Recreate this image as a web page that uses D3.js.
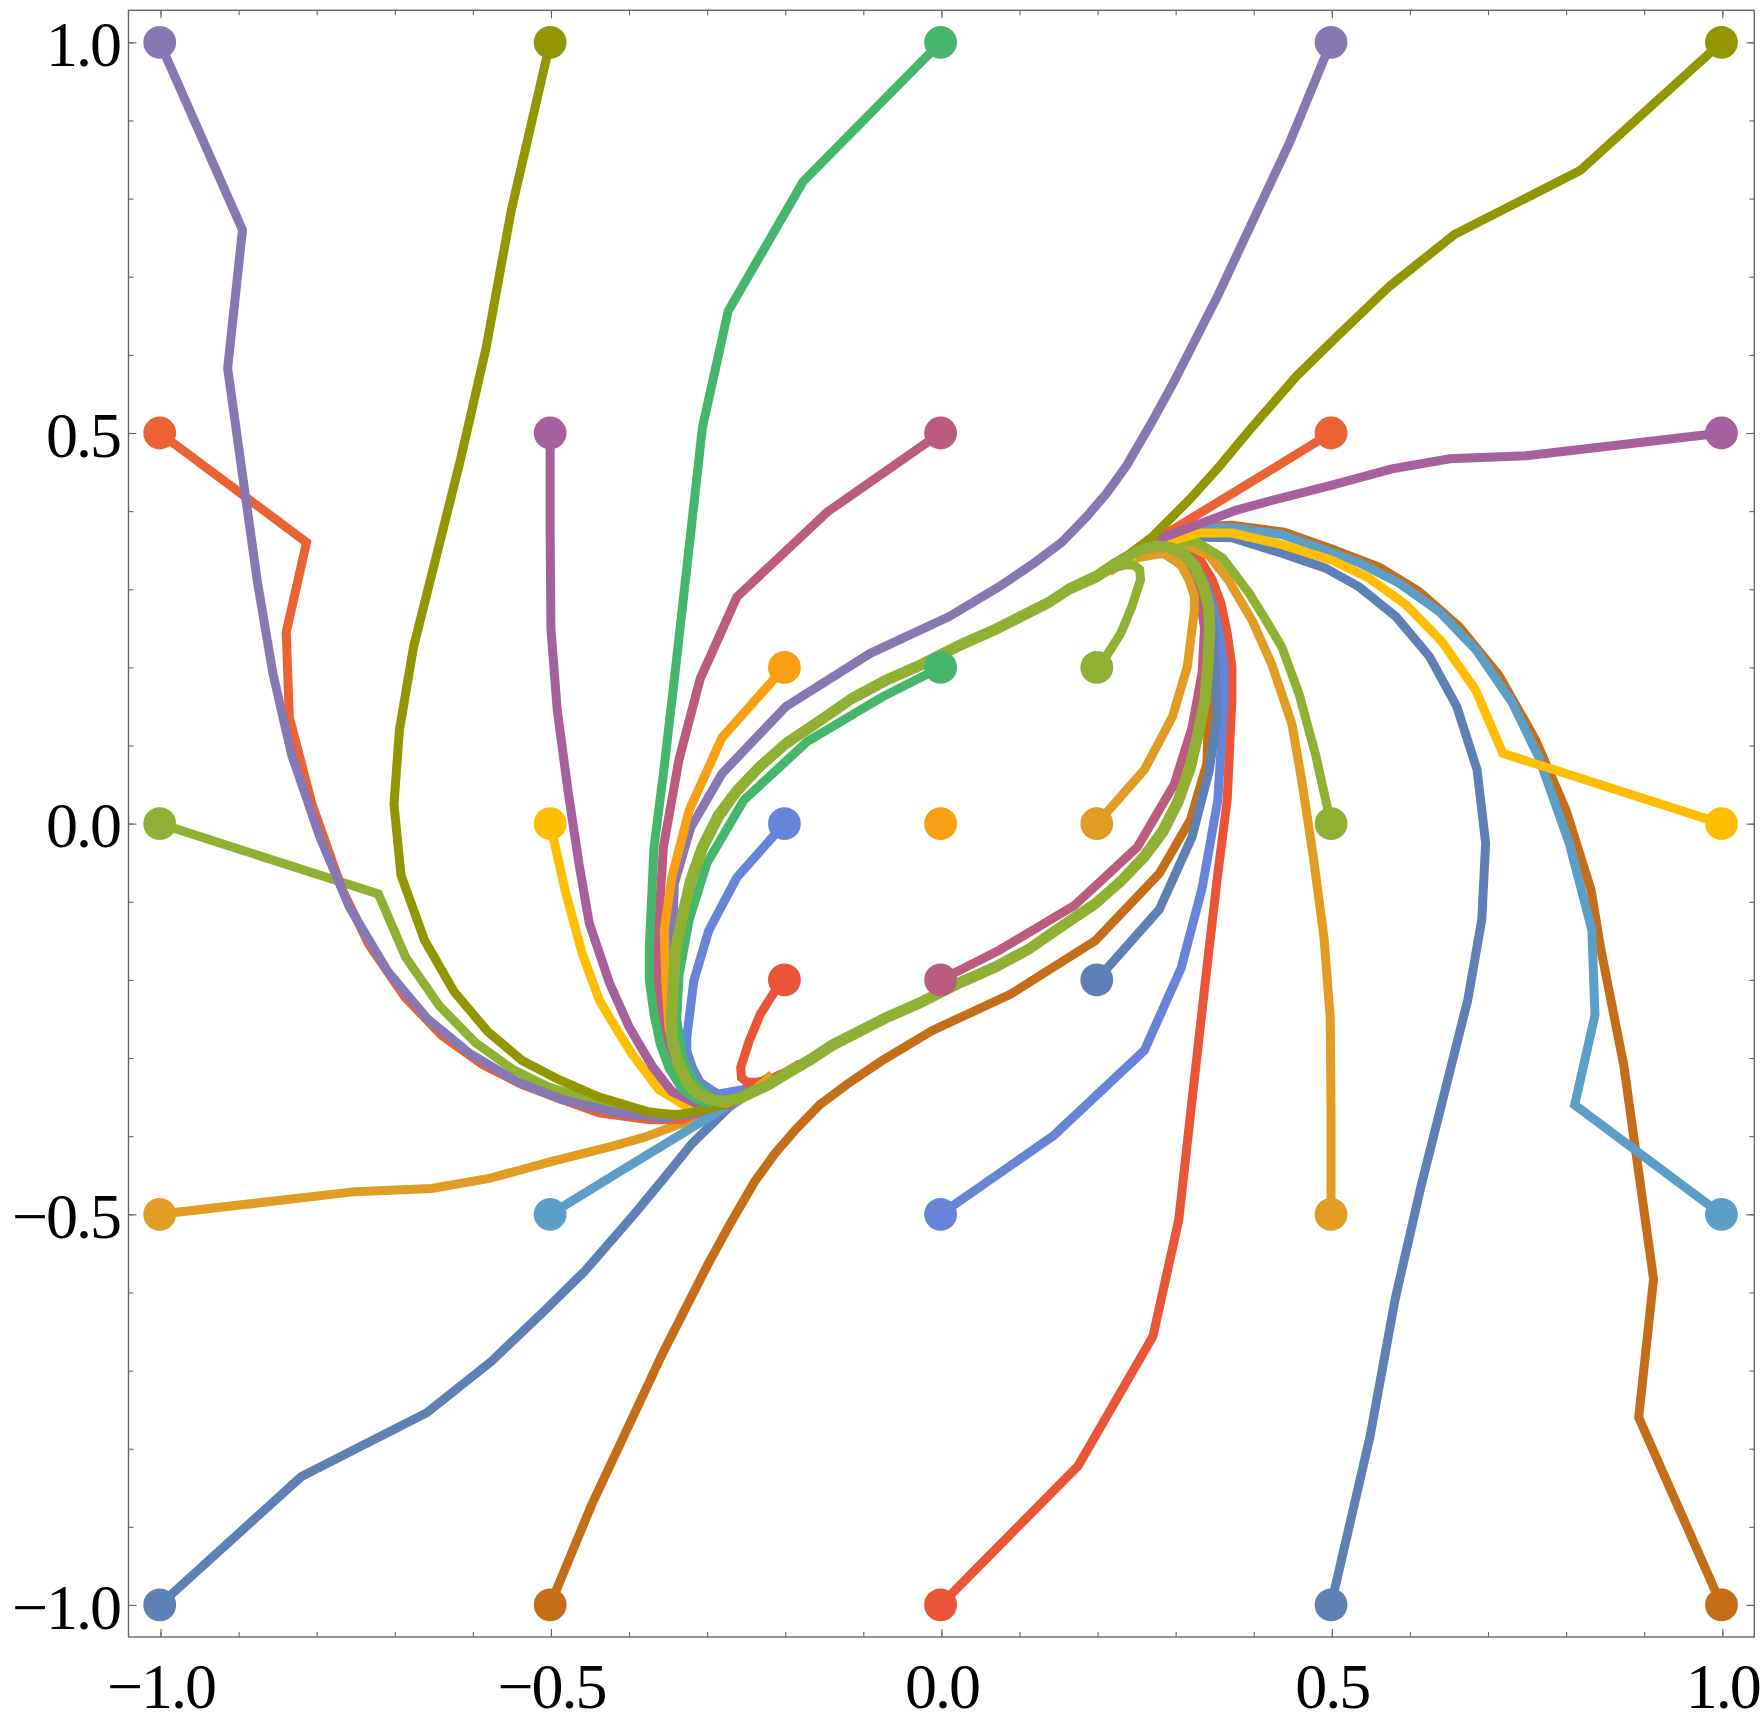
<!DOCTYPE html>
<html>
<head>
<meta charset="utf-8">
<style>
  html, body { margin: 0; padding: 0; background: #fff; }
  svg { display: block; }
  .axis path.domain { display: none; }
  .axis line { stroke: #666; stroke-width: 1.1; }
  .axis text { font-family: "Liberation Serif", serif; font-size: 64px; letter-spacing: -2px; fill: #000; }
</style>
<script src="https://cdn.jsdelivr.net/npm/d3@7"></script>
</head>
<body>
<svg id="chart" width="1760" height="1726"></svg>
<script>
// tick values
const majorTicks = [-1, -0.5, 0, 0.5, 1]
const minorTicks = [-1, -0.9, -0.8, -0.7, -0.6, -0.5, -0.4, -0.3, -0.2, -0.1, 0, 0.1, 0.2, 0.3, 0.4, 0.5, 0.6, 0.7, 0.8, 0.9, 1]

// Mathematica default palette, 15 colours then it wraps
const palette = ['#5E81B5', '#E19C24', '#8FB032', '#EB6235', '#8778B3', '#C56E1A', '#5D9EC7', '#FFBF00', '#A5609D', '#929600', '#E95536', '#6685D9', '#F89F13', '#BC5B80', '#47B66D']

// trajectories, named after their starting point
const fromM10M10 = [[-1,-1],[-.819,-.836],[-.658,-.754],[-.575,-.688],[-.507,-.623],[-.456,-.573],[-.395,-.503],[-.356,-.456],[-.318,-.409],[-.271,-.363],[-.23,-.335],[-.205,-.321]]
const fromM10M05 = [[-1,-.5],[-.75,-.471],[-.652,-.467],[-.578,-.454],[-.5,-.433],[-.414,-.411],[-.378,-.401],[-.322,-.38],[-.284,-.366],[-.263,-.357],[-.22,-.332]]
const fromM10Z00 = [[-1,0],[-.72,-.09],[-.685,-.171],[-.642,-.233],[-.596,-.28],[-.549,-.314],[-.502,-.337],[-.437,-.357],[-.373,-.372],[-.331,-.372],[-.293,-.361],[-.24,-.337]]
const fromM10P05 = [[-1,.5],[-.812,.36],[-.838,.245],[-.834,.136],[-.805,.025],[-.766,-.085],[-.732,-.155],[-.686,-.222],[-.639,-.271],[-.587,-.308],[-.536,-.334],[-.485,-.353],[-.437,-.37],[-.373,-.379],[-.331,-.379],[-.302,-.367],[-.27,-.355]]
const fromM10P10 = [[-1,1],[-.894,.76],[-.913,.583],[-.875,.31],[-.855,.192],[-.831,.088],[-.795,-.017],[-.757,-.107],[-.708,-.189],[-.658,-.249],[-.603,-.294],[-.543,-.33],[-.486,-.353],[-.414,-.37],[-.356,-.377],[-.299,-.369],[-.255,-.35],[-.216,-.322]]
const fromM05M10 = [[-.5,-1],[-.447,-.872],[-.356,-.678],[-.299,-.566],[-.27,-.513],[-.238,-.458],[-.212,-.422],[-.187,-.393],[-.155,-.36],[-.119,-.333],[-.076,-.304],[-.011,-.265],[.09,-.218],[.198,-.15],[.28,-.064],[.32,.005],[.341,.077],[.345,.2],[.338,.28],[.31,.33],[.28,.35]]
const fromM05M05 = [[-.5,-.5],[-.412,-.446],[-.31,-.384],[-.267,-.358],[-.22,-.33]]
const fromM05Z00 = [[-.5,0],[-.48,-.089],[-.459,-.166],[-.437,-.226],[-.412,-.268],[-.395,-.295],[-.361,-.34],[-.327,-.361],[-.302,-.361],[-.27,-.352]]
const fromM05P05 = [[-.5,.5],[-.5,.372],[-.499,.249],[-.491,.146],[-.477,.041],[-.463,-.052],[-.45,-.127],[-.424,-.204],[-.399,-.26],[-.369,-.311],[-.344,-.343],[-.309,-.36],[-.271,-.36],[-.216,-.322]]
const fromM05P10 = [[-.5,1],[-.55,.784],[-.582,.609],[-.615,.465],[-.675,.226],[-.693,.12],[-.7,.025],[-.691,-.066],[-.661,-.149],[-.623,-.215],[-.58,-.266],[-.536,-.303],[-.488,-.328],[-.437,-.35],[-.373,-.369],[-.339,-.373],[-.301,-.366],[-.267,-.356],[-.216,-.322]]
const fromZ00M10 = [[0,-1],[.176,-.822],[.272,-.656],[.305,-.507],[.32,-.372],[.338,-.211],[.354,-.072],[.367,.03],[.373,.158],[.373,.201],[.367,.244],[.359,.282],[.348,.312],[.331,.34],[.314,.352],[.293,.359]]
const fromZ00M05 = [[0,-.5],[.145,-.399],[.261,-.29],[.308,-.185],[.335,-.082],[.355,.03],[.363,.158],[.363,.201],[.357,.244],[.348,.282],[.337,.312],[.323,.335],[.306,.35]]
const fromZ00Z00 = [[0,0]]
const fromZ00P05 = [[0,.5],[-.145,.399],[-.261,.29],[-.308,.185],[-.335,.082],[-.355,-.03],[-.363,-.158],[-.363,-.201],[-.357,-.244],[-.348,-.282],[-.337,-.312],[-.323,-.335],[-.306,-.35]]
const fromZ00P10 = [[0,1],[-.176,.822],[-.272,.656],[-.305,.507],[-.32,.372],[-.338,.211],[-.354,.072],[-.367,-.03],[-.373,-.158],[-.373,-.201],[-.367,-.244],[-.359,-.282],[-.348,-.312],[-.331,-.34],[-.314,-.352],[-.293,-.359]]
const fromP05M10 = [[.5,-1],[.55,-.784],[.582,-.609],[.615,-.465],[.675,-.226],[.693,-.123],[.698,-.025],[.687,.069],[.661,.15],[.626,.214],[.583,.265],[.536,.303],[.493,.327],[.437,.346],[.373,.366],[.322,.367],[.28,.354],[.24,.34]]
const fromP05M05 = [[.5,-.5],[.5,-.372],[.499,-.249],[.491,-.146],[.477,-.041],[.463,.052],[.45,.127],[.424,.204],[.399,.26],[.369,.311],[.344,.343],[.309,.36],[.271,.36],[.216,.322]]
const fromP05Z00 = [[.5,0],[.48,.089],[.459,.166],[.437,.226],[.412,.268],[.395,.295],[.361,.34],[.327,.361],[.302,.361],[.27,.352]]
const fromP05P05 = [[.5,.5],[.412,.446],[.31,.384],[.267,.358],[.22,.33]]
const fromP05P10 = [[.5,1],[.447,.872],[.356,.678],[.299,.566],[.27,.513],[.238,.458],[.212,.422],[.187,.393],[.155,.36],[.119,.333],[.076,.304],[.011,.265],[-.09,.218],[-.198,.15],[-.28,.064],[-.32,-.005],[-.341,-.077],[-.345,-.2],[-.338,-.28],[-.31,-.33],[-.28,-.35]]
const fromP10M10 = [[1,-1],[.894,-.76],[.913,-.583],[.875,-.31],[.845,-.158],[.833,-.085],[.801,.017],[.762,.107],[.715,.19],[.664,.252],[.613,.297],[.562,.328],[.5,.352],[.44,.373],[.373,.382],[.331,.38],[.3,.367],[.255,.35]]
const fromP10M05 = [[1,-.5],[.812,-.36],[.838,-.245],[.834,-.136],[.805,-.025],[.766,.085],[.732,.155],[.686,.222],[.639,.271],[.587,.308],[.536,.334],[.485,.353],[.437,.37],[.373,.379],[.331,.379],[.302,.367],[.27,.355]]
const fromP10Z00 = [[1,0],[.72,.09],[.685,.171],[.642,.233],[.596,.28],[.549,.314],[.502,.337],[.437,.357],[.373,.372],[.331,.372],[.293,.361],[.24,.337]]
const fromP10P05 = [[1,.5],[.75,.471],[.652,.467],[.578,.454],[.5,.433],[.414,.411],[.378,.401],[.322,.38],[.284,.366],[.263,.357],[.22,.332]]
const fromP10P10 = [[1,1],[.819,.836],[.658,.754],[.575,.688],[.507,.623],[.456,.573],[.395,.503],[.356,.456],[.318,.414],[.271,.367],[.229,.335],[.205,.319]]
const fromM02M02 = [[-.2,-.2],[-.212,-.214],[-.231,-.244],[-.245,-.278],[-.256,-.312],[-.255,-.325],[-.248,-.331],[-.235,-.331],[-.22,-.328],[-.2,-.319],[-.18,-.307]]
const fromM02Z00 = [[-.2,0],[-.261,-.069],[-.297,-.137],[-.316,-.201],[-.325,-.273],[-.325,-.291],[-.318,-.312],[-.308,-.331],[-.293,-.342],[-.284,-.346],[-.25,-.34]]
const fromM02P02 = [[-.2,.2],[-.28,.11],[-.322,.017],[-.344,-.068],[-.354,-.136],[-.352,-.2],[-.348,-.26],[-.338,-.305],[-.319,-.34],[-.299,-.352],[-.275,-.358],[-.245,-.347],[-.216,-.322]]
const fromZ00M02 = [[0,-.2],[.075,-.162],[.171,-.105],[.252,-.03],[.299,.05],[.322,.123],[.335,.194],[.338,.251],[.33,.3],[.315,.332],[.293,.35]]
const fromZ00P02 = [[0,.2],[-.075,.162],[-.171,.105],[-.252,.03],[-.299,-.05],[-.322,-.123],[-.335,-.194],[-.338,-.251],[-.33,-.3],[-.315,-.332],[-.293,-.35]]
const fromP02M02 = [[.2,-.2],[.28,-.11],[.322,-.017],[.344,.068],[.354,.136],[.352,.2],[.348,.26],[.338,.305],[.319,.34],[.299,.352],[.275,.358]]
const fromP02Z00 = [[.2,0],[.261,.069],[.297,.137],[.316,.201],[.325,.273],[.325,.291],[.318,.312],[.308,.331],[.293,.342],[.284,.346],[.25,.34]]
// this last one winds round the closed loop twice, a hair further out the second time, so the loop reads as one wider band on top of everything
const fromP02P02 = [[.2,.2],[.212,.214],[.231,.244],[.245,.278],[.256,.312],[.255,.325],[.248,.331],[.235,.331],[.22,.327],[.199,.314],[.165,.299],[.139,.282],[.07,.247],[.027,.228],[-.027,.201],[-.07,.182],[-.113,.159],[-.155,.13],[-.198,.101],[-.232,.071],[-.26,.041],[-.283,.009],[-.303,-.03],[-.318,-.072],[-.328,-.114],[-.337,-.158],[-.341,-.205],[-.343,-.252],[-.342,-.278],[-.335,-.303],[-.325,-.327],[-.31,-.344],[-.293,-.352],[-.276,-.354],[-.258,-.35],[-.241,-.342],[-.22,-.332],[-.194,-.316],[-.165,-.299],[-.139,-.282],[-.07,-.247],[-.027,-.228],[.027,-.201],[.07,-.182],[.113,-.159],[.155,-.13],[.198,-.101],[.232,-.071],[.26,-.041],[.283,-.009],[.303,.03],[.318,.072],[.328,.114],[.337,.158],[.341,.205],[.343,.252],[.342,.278],[.335,.303],[.325,.327],[.31,.344],[.293,.352],[.276,.354],[.258,.35],[.241,.342],[.22,.332],[.199,.318],[.165,.302],[.139,.285],[.07,.25],[.027,.231],[-.027,.204],[-.07,.185],[-.113,.162],[-.155,.133],[-.198,.104],[-.232,.074],[-.262,.043],[-.286,.011],[-.306,-.029],[-.321,-.071],[-.331,-.113],[-.34,-.158],[-.344,-.205],[-.346,-.252],[-.345,-.279],[-.338,-.305],[-.327,-.33],[-.312,-.347],[-.294,-.355],[-.276,-.357],[-.258,-.353],[-.24,-.345],[-.219,-.335],[-.193,-.319],[-.164,-.302],[-.138,-.285],[-.07,-.25],[-.027,-.231],[.027,-.204],[.07,-.185],[.113,-.162],[.155,-.133],[.198,-.104],[.232,-.074],[.262,-.043],[.286,-.011],[.306,.029],[.321,.071],[.331,.113],[.34,.158],[.344,.205],[.346,.252],[.345,.279],[.338,.305],[.327,.33],[.312,.347],[.294,.355],[.276,.357],[.258,.352],[.24,.343],[.22,.331],[.199,.316]]

// draw order decides which line ends up on top
const trajectories = [
  fromM10M10, fromM10M05, fromM10Z00, fromM10P05, fromM10P10,
  fromM05M10, fromM05M05, fromM05Z00, fromM05P05, fromM05P10,
  fromZ00M10, fromZ00M05, fromZ00Z00, fromZ00P05, fromZ00P10,
  fromP05M10, fromP05M05, fromP05Z00, fromP05P05, fromP05P10,
  fromP10M10, fromP10M05, fromP10Z00, fromP10P05, fromP10P10,
  fromM02M02, fromM02Z00, fromM02P02, fromZ00M02, fromZ00P02,
  fromP02M02, fromP02Z00, fromP02P02
]

const plotLeft = 128.5, plotRight = 1754.3, plotTop = 10.3, plotBottom = 1637
const x = d3.scaleLinear().domain([-1.041, 1.041]).range([plotLeft, plotRight])
const y = d3.scaleLinear().domain([-1.041, 1.041]).range([plotBottom, plotTop])
const colour = (i) => palette[i % palette.length]

const svg = d3.select('#chart')

const line = d3.line().x((d) => x(d[0])).y((d) => y(d[1]))

// marks sit a touch left of the ticks in the original
const marks = svg.append('g').attr('transform', 'translate(-0.8,0)')

marks.append('g')
  .selectAll('path')
  .data(trajectories)
  .join('path')
  .attr('d', line)
  .attr('fill', 'none')
  .attr('stroke', (d, i) => colour(i))
  .attr('stroke-width', 9)
  .attr('stroke-linejoin', 'miter')
  .attr('stroke-miterlimit', 10)

marks.append('g')
  .selectAll('circle')
  .data(trajectories)
  .join('circle')
  .attr('cx', (d) => x(d[0][0]))
  .attr('cy', (d) => y(d[0][1]))
  .attr('r', 16.4)
  .attr('fill', (d, i) => colour(i))

// frame
svg.append('rect')
  .attr('x', plotLeft).attr('y', plotTop)
  .attr('width', plotRight - plotLeft).attr('height', plotBottom - plotTop)
  .attr('fill', 'none')
  .attr('stroke', '#666')
  .attr('stroke-width', 1.4)

const fmt = d3.format('.1f')

// ticks point inward on all four sides, only bottom and left carry labels
const addAxis = (axis, scale, dx, dy, labelled) => {
  const g = svg.append('g')
    .attr('class', 'axis')
    .attr('transform', `translate(${dx},${dy})`)
  g.call(axis(scale).tickValues(minorTicks).tickSizeInner(-5).tickSizeOuter(0).tickFormat(''))
  const major = svg.append('g')
    .attr('class', 'axis')
    .attr('transform', `translate(${dx},${dy})`)
  major.call(axis(scale).tickValues(majorTicks).tickSizeInner(-8).tickSizeOuter(0).tickPadding(8.5).tickFormat(labelled ? fmt : ''))
  return major
}

addAxis(d3.axisBottom, x, 0, plotBottom, true)
  .selectAll('text')
  .attr('y', 71)
  .attr('dy', 0)
addAxis(d3.axisLeft, y, plotLeft, 0, true)
  .selectAll('text')
  .attr('dy', '0.36em')
addAxis(d3.axisTop, x, 0, plotTop, false)
addAxis(d3.axisRight, y, plotRight, 0, false)
</script>
</body>
</html>
